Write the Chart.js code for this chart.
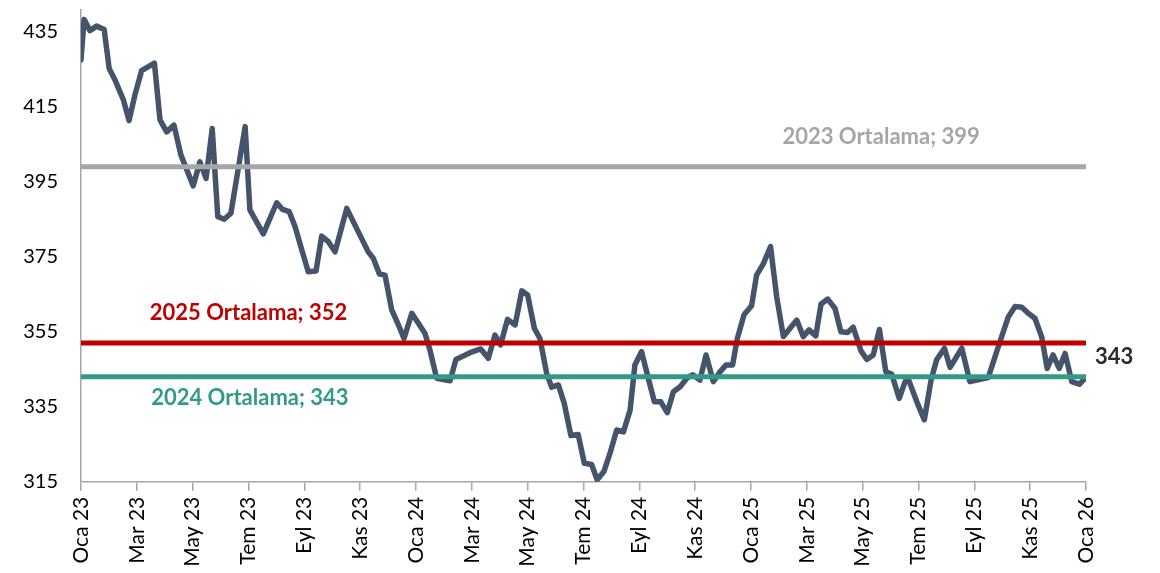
<!DOCTYPE html>
<html>
<head>
<meta charset="utf-8">
<script src="https://cdn.jsdelivr.net/npm/chart.js@4.4.0/dist/chart.umd.min.js"></script>
<style>
  body { margin: 0; background: #fff; }
  #wrap { width: 1160px; height: 573px; }
</style>
</head>
<body>
<div id="wrap"><canvas id="chart" width="1160" height="573"></canvas></div>
<script>
// x tick labels, one every 2 months (x = months since Oca 23)
const monthLabels = ['Oca 23', 'Mar 23', 'May 23', 'Tem 23', 'Eyl 23', 'Kas 23',
  'Oca 24', 'Mar 24', 'May 24', 'Tem 24', 'Eyl 24', 'Kas 24',
  'Oca 25', 'Mar 25', 'May 25', 'Tem 25', 'Eyl 25', 'Kas 25', 'Oca 26'];

const yTicks = [315, 335, 355, 375, 395, 415, 435];

// series: position in months, value
const monthPos = [
  0.00, 0.11, 0.32, 0.56, 0.83, 1.01, 1.22, 1.52, 1.72, 1.93, 2.17, 2.63, 2.83, 3.07, 3.33, 3.58,
  4.02, 4.26, 4.48, 4.70, 4.90, 5.13, 5.37, 5.88, 6.05, 6.53, 7.01, 7.22, 7.46, 7.67, 7.91, 8.14,
  8.42, 8.62, 8.86, 9.10, 9.52, 9.81, 10.05, 10.29, 10.47, 10.69, 10.89, 11.13, 11.37, 11.57, 11.85,
  12.32, 12.50, 12.74, 13.22, 13.43, 13.69, 13.93, 14.32, 14.59, 14.83, 15.03, 15.28, 15.55, 15.79,
  16.00, 16.24, 16.44, 16.68, 16.86, 17.10, 17.31, 17.55, 17.81, 18.03, 18.29, 18.49, 18.73, 18.95,
  19.19, 19.43, 19.67, 19.84, 20.08, 20.32, 20.54, 20.77, 21.00, 21.22, 21.46, 21.70, 21.91, 22.17,
  22.39, 22.65, 22.89, 23.10, 23.34, 23.51, 23.75, 24.02, 24.20, 24.44, 24.70, 24.92, 25.16, 25.40,
  25.64, 25.87, 26.08, 26.32, 26.51, 26.75, 27.01, 27.22, 27.46, 27.66, 27.94, 28.15, 28.38, 28.60,
  28.83, 29.04, 29.31, 29.52, 29.66, 29.94, 30.21, 30.45, 30.65, 30.93, 31.13, 31.55, 31.84, 32.50,
  32.86, 33.22, 33.46, 33.70, 33.93, 34.17, 34.41, 34.61, 34.82, 35.04, 35.25, 35.49, 35.76, 36.00
];
const prices = [
  427.5, 438.3, 435.3, 436.5, 435.6, 425.2, 422.1, 416.8, 411.3, 418.1, 424.6, 426.6, 411.5, 408.3, 410.1, 402.1,
  393.9, 400.3, 395.9, 409.2, 385.7, 385.0, 386.6, 409.7, 387.5, 381.1, 389.4, 387.6, 387.0, 383.0, 376.8, 371.0,
  371.2, 380.5, 379.0, 376.3, 387.9, 383.5, 379.9, 376.3, 374.6, 370.4, 370.1, 360.8, 356.8, 353.2, 359.9,
  354.6, 350.1, 342.6, 341.9, 347.6, 348.5, 349.4, 350.4, 347.9, 354.1, 351.5, 358.3, 356.8, 365.9,
  364.8, 355.9, 353.2, 343.9, 340.2, 340.8, 335.9, 327.3, 327.6, 319.9, 319.6, 315.5, 317.7, 322.6,
  328.8, 328.3, 334.1, 346.1, 349.7, 342.6, 336.3, 336.3, 333.4, 339.0, 340.3, 342.6, 343.5, 342.1,
  348.8, 341.7, 344.3, 346.1, 346.1, 353.2, 359.5, 361.9, 370.1, 373.1, 377.7, 364.3, 353.7, 355.9,
  358.1, 353.7, 355.5, 353.9, 362.4, 363.7, 361.2, 355.0, 354.8, 356.2, 349.9, 347.6, 348.8, 355.6,
  344.3, 343.7, 337.2, 341.7, 341.9, 336.3, 331.5, 342.1, 347.5, 350.6, 345.5, 350.6, 341.7, 342.8,
  351.0, 359.0, 361.7, 361.5, 359.9, 358.6, 353.7, 345.2, 348.8, 345.2, 349.2, 341.7, 341.0, 342.8
];

const avgNames = ['2023 Ortalama', '2024 Ortalama', '2025 Ortalama'];
const avgValues = [399, 343, 352];
const lastLabel = '343';

const avgColors = ['#a6a6a6', '#339a87', '#c00000'];
const lineColor = '#44546a';

const avgLine = (i) => ({
  data: [{ x: 0, y: avgValues[i] }, { x: 36, y: avgValues[i] }],
  borderColor: avgColors[i],
  borderWidth: 5,
  borderCapStyle: 'round',
  pointRadius: 0,
  order: 0
});

// text next to the average lines and the last value
const labelsPlugin = {
  id: 'labels',
  afterDatasetsDraw(chart) {
    const { ctx, scales: { x, y } } = chart;
    ctx.save();
    ctx.font = 'bold 22px Lato';
    ctx.textBaseline = 'middle';
    ctx.textAlign = 'center';
    const spots = [
      { cx: x.getPixelForValue(28.66), dy: -30 },
      { cx: x.getPixelForValue(6.05), dy: 21 },
      { cx: x.getPixelForValue(6.0), dy: -30 }
    ];
    avgNames.forEach((name, i) => {
      ctx.fillStyle = avgColors[i];
      ctx.fillText(name + '; ' + avgValues[i], spots[i].cx, y.getPixelForValue(avgValues[i]) + spots[i].dy);
    });
    ctx.textAlign = 'left';
    ctx.fillStyle = '#2b2b2b';
    const last = prices[prices.length - 1];
    ctx.fillText(lastLabel, x.getPixelForValue(36) + 9, y.getPixelForValue(last) - 21);
    ctx.restore();
  }
};

const ctx = document.getElementById('chart').getContext('2d');
new Chart(ctx, {
  type: 'line',
  data: {
    datasets: [
      avgLine(0), avgLine(1), avgLine(2),
      {
        data: monthPos.map((m, i) => ({ x: m, y: prices[i] })),
        borderColor: lineColor,
        borderWidth: 5.5,
        borderJoinStyle: 'round',
        borderCapStyle: 'round',
        pointRadius: 0,
        tension: 0,
        order: 1
      }
    ]
  },
  options: {
    responsive: false,
    animation: false,
    layout: { padding: { top: 10, right: 74, bottom: 0, left: 0 } },
    plugins: { legend: { display: false }, tooltip: { enabled: false } },
    scales: {
      x: {
        type: 'linear',
        min: 0,
        max: 36,
        afterBuildTicks: (axis) => { axis.ticks = monthLabels.map((_, i) => ({ value: i * 2 })); },
        afterFit: (axis) => { axis.height = 91.3; },
        ticks: {
          autoSkip: false,
          minRotation: 90,
          maxRotation: 90,
          padding: 6,
          color: '#000',
          font: { family: 'Lato', size: 21 },
          callback: (v) => monthLabels[Math.round(v / 2)]
        },
        grid: { drawOnChartArea: false, drawTicks: true, tickLength: 9, color: '#a6a6a6', lineWidth: 1.5 },
        border: { display: true, color: '#a6a6a6', width: 1.5 }
      },
      y: {
        min: 315,
        max: 440.8,
        afterBuildTicks: (axis) => { axis.ticks = yTicks.map(v => ({ value: v })); },
        afterFit: (axis) => {
          axis.width = 81;
          axis.paddingTop = 0;
          axis.paddingBottom = 0;
        },
        ticks: {
          padding: 23,
          color: '#000',
          font: { family: 'Lato', size: 20 }
        },
        grid: { drawOnChartArea: false, drawTicks: false },
        border: { display: true, color: '#a6a6a6', width: 1.5 }
      }
    }
  },
  plugins: [labelsPlugin]
});
</script>
</body>
</html>
